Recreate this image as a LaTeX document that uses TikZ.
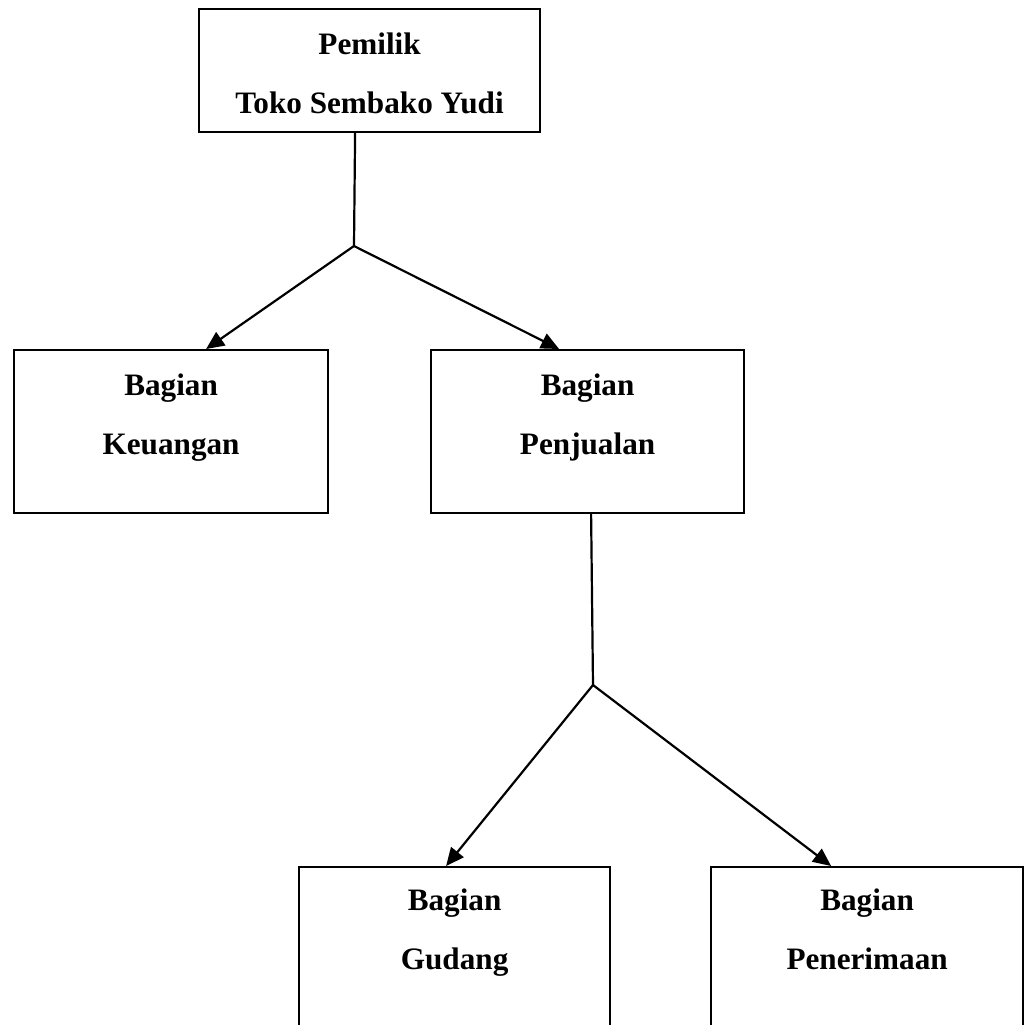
\documentclass[tikz,border=0pt]{standalone}
\usepackage{fontspec}
\setmainfont{Liberation Serif}
\usetikzlibrary{positioning,arrows.meta}

\tikzset{
  kotak/.style={draw, line width=1.1pt, anchor=north west, inner sep=0pt},
  teks/.style={align=center, inner sep=0pt, anchor=north,
    font=\fontsize{15.6}{29.5}\selectfont\bfseries},
  garis/.style={line width=1.1pt},
  panah/.style={line width=1.1pt, -{Triangle[length=9pt,width=8pt]}}
}

\begin{document}
\begin{tikzpicture}[x=0.5pt, y=-0.5pt]
  \clip (0,0) rectangle (1024,1025);
  % kotak
  \node[kotak, minimum width=170.5pt, minimum height=61.5pt] (pemilik) at (198,8) {};
  \node[kotak, minimum width=157pt, minimum height=81.5pt] (keuangan) at (13,349) {};
  \node[kotak, minimum width=156.5pt, minimum height=81.5pt] (penjualan) at (430,349) {};
  \node[kotak, minimum width=155.5pt, minimum height=100pt] (gudang) at (298,866) {};
  \node[kotak, minimum width=156pt, minimum height=100pt] (penerimaan) at (710,866) {};
  % teks
  \node[teks, below=12pt of pemilik.north] (tpemilik) {Pemilik\\Toko Sembako Yudi};
  \node[teks, below=12pt of keuangan.north] (tkeuangan) {Bagian\\Keuangan};
  \node[teks, below=12pt of penjualan.north] (tpenjualan) {Bagian\\Penjualan};
  \node[teks, below=11pt of gudang.north] (tgudang) {Bagian\\Gudang};
  \node[teks, below=11pt of penerimaan.north] (tpenerimaan) {Bagian\\Penerimaan};
  % garis
  \coordinate (cabang1) at (354,246);
  \coordinate (cabang2) at (593,685);
  \draw[garis] ([xshift=-7.25pt]pemilik.south) -- (cabang1);
  \draw[panah] (cabang1) -- ([xshift=17.5pt]keuangan.north);
  \draw[panah] (cabang1) -- ([xshift=-14.25pt]penjualan.north);
  \draw[garis] ([xshift=1.75pt]penjualan.south) -- (cabang2);
  \draw[panah] (cabang2) -- ([xshift=-4.25pt]gudang.north);
  \draw[panah] (cabang2) -- ([xshift=-18pt]penerimaan.north);
\end{tikzpicture}
\end{document}
